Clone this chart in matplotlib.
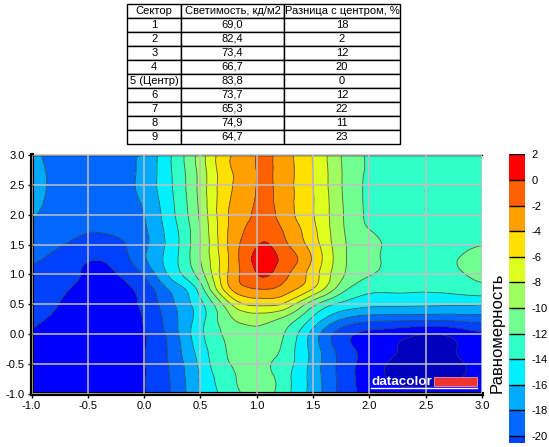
import numpy as np
import matplotlib
matplotlib.use('Agg')
import matplotlib.pyplot as plt
import matplotlib.tri as mtri
from matplotlib.patches import Rectangle

plt.rcParams['font.family'] = ['Liberation Sans', 'DejaVu Sans']
plt.rcParams['axes.unicode_minus'] = False

# таблица секторов
sectors = ['1', '2', '3', '4', '5 (Центр)', '6', '7', '8', '9']
luminance = [69.0, 82.4, 73.4, 66.7, 83.8, 73.7, 65.3, 74.9, 64.7]
diff_pct = [18, 2, 12, 20, 0, 12, 22, 11, 23]
headers = ['Сектор', 'Светимость, кд/м2', 'Разница с центром, %']

# поле равномерности (строки снизу вверх)
xs = [-1.0, -0.75, -0.5, -0.25, 0.0, 0.25, 0.5, 0.75, 0.875, 1.0, 1.125, 1.25,
      1.5, 1.75, 2.0, 2.25, 2.5, 2.75, 3.0]
ys = [-1.0, -0.75, -0.5, -0.25, 0.0, 0.25, 0.5, 0.75, 1.0, 1.25, 1.5, 1.75,
      2.0, 2.25, 2.5, 2.75, 3.0]
z_rows = [
    [-22.8, -23.4, -23.6, -23.3, -22.1, -19.8, -16.0, -13.0, -11.9, -11.3, -11.7, -13.2, -16.8, -20.5, -22.8, -23.4, -23.7, -23.6, -23.3],
    [-22.7, -23.3, -23.6, -23.3, -22.1, -19.7, -15.8, -12.6, -11.6, -11.2, -11.6, -13.2, -16.8, -20.6, -23.0, -24.3, -24.4, -24.1, -23.4],
    [-22.6, -23.2, -23.5, -23.2, -22.1, -19.5, -15.5, -12.1, -11.5, -11.1, -12.0, -13.1, -16.8, -20.6, -23.0, -24.5, -24.8, -24.4, -23.4],
    [-22.4, -23.0, -23.4, -23.1, -22.1, -19.3, -15.0, -11.8, -11.0, -10.8, -11.2, -12.6, -16.8, -20.8, -22.8, -24.0, -24.5, -24.1, -23.0],
    [-22.1, -22.8, -23.2, -22.9, -22.1, -19.0, -14.5, -11.5, -10.8, -10.5, -11.0, -12.1, -16.8, -21.0, -22.6, -23.3, -24.0, -23.5, -22.4],
    [-21.7, -22.4, -22.9, -22.7, -21.9, -18.7, -14.8, -10.5, -9.5, -9.2, -9.6, -10.6, -14.5, -18.0, -19.3, -19.5, -19.6, -19.5, -19.2],
    [-21.2, -22.05, -22.7, -22.5, -21.6, -18.3, -14.6, -8.6, -6.2, -5.6, -5.6, -6.5, -11.4, -14.5, -15.5, -15.6, -15.7, -15.8, -15.9],
    [-21.0, -21.7, -22.4, -22.4, -21.2, -17.5, -13.0, -4.6, -2.6, -2.1, -2.1, -3.0, -6.2, -11.2, -13.5, -13.6, -13.7, -13.4, -12.8],
    [-20.4, -21.2, -22.2, -22.05, -19.8, -15.3, -10.9, -3.8, -1.6, -0.05, -0.05, -1.5, -5.0, -9.6, -11.9, -12.4, -12.6, -12.3, -11.5],
    [-19.8, -20.6, -21.85, -21.3, -18.3, -14.8, -10.0, -4.0, -1.3, 0.5, 0.5, -0.6, -4.3, -9.3, -11.7, -12.3, -12.5, -12.1, -11.3],
    [-19.4, -19.9, -20.5, -20.4, -18.5, -15.0, -10.0, -3.8, -1.6, -0.15, -0.1, -1.6, -5.0, -9.4, -11.6, -12.4, -12.6, -12.4, -12.05],
    [-18.4, -19.4, -19.9, -19.7, -18.3, -14.8, -9.9, -3.9, -2.2, -0.9, -1.1, -2.3, -5.5, -9.6, -12.0, -12.5, -12.6, -12.5, -12.3],
    [-17.8, -18.8, -19.3, -19.1, -18.0, -14.4, -9.6, -4.0, -2.7, -1.6, -1.6, -3.0, -5.9, -9.7, -12.3, -12.6, -12.7, -12.6, -12.6],
    [-17.4, -18.6, -19.1, -18.9, -17.6, -14.2, -9.4, -4.2, -3.0, -1.85, -1.8, -3.1, -5.9, -9.8, -12.3, -12.6, -12.8, -12.8, -12.7],
    [-17.3, -18.5, -19.0, -18.8, -17.3, -14.0, -9.3, -4.4, -3.2, -1.95, -1.85, -3.1, -6.0, -9.9, -12.3, -12.7, -12.9, -12.9, -12.8],
    [-17.4, -18.5, -18.9, -18.7, -17.4, -13.9, -9.2, -4.3, -3.2, -1.95, -1.85, -3.1, -6.0, -9.9, -12.2, -12.6, -12.8, -12.9, -12.9],
    [-17.6, -18.6, -18.9, -18.6, -17.6, -13.9, -9.1, -4.3, -3.2, -1.98, -1.85, -3.1, -6.0, -10.0, -12.2, -12.6, -12.8, -12.9, -12.9],
]

levels = [-40, -24, -22, -20, -18, -16, -14, -12, -10, -8, -6, -4, -2, 0, 2]
band_colors = ['#0000be', '#0000ff', '#0040ff', '#0068ff', '#00aaff', '#00f0ff',
               '#30ffc8', '#70ff90', '#a0ff60', '#dcff20', '#ffe000', '#ffa000',
               '#ff6000', '#ff0000']
cbar_ticks = list(range(-20, 3, 2))

fig = plt.figure(figsize=(5.49, 4.47), dpi=100)

# --- контурная карта
ax = fig.add_axes([0.0574, 0.118, 0.8206, 0.536])
X, Y = np.meshgrid(xs, ys)
Z = np.array(z_rows)
tri = mtri.Triangulation(X.ravel(), Y.ravel())
refiner = mtri.UniformTriRefiner(tri)
tri_f, z_f = refiner.refine_field(Z.ravel(), subdiv=3)
ax.tricontourf(tri_f, z_f, levels=levels, colors=band_colors)
ax.tricontour(tri_f, z_f, levels=levels[1:-1], colors='#3a3a3a',
              linewidths=0.6, linestyles='solid', alpha=0.8)

ax.set_xlim(-1, 3)
ax.set_ylim(-1, 3)
ax.set_xticks(np.arange(-1, 3.01, 0.5))
ax.set_yticks(np.arange(-1, 3.01, 0.5))
ax.xaxis.set_major_formatter(matplotlib.ticker.FormatStrFormatter('%.1f'))
ax.yaxis.set_major_formatter(matplotlib.ticker.FormatStrFormatter('%.1f'))
ax.tick_params(labelsize=8, length=3, width=1, pad=2, colors='black')
ax.set_axisbelow(False)
ax.grid(True, color='#c0c0c0', linewidth=1.1)
ax.spines['left'].set_linewidth(3)
ax.spines['bottom'].set_linewidth(3)
ax.spines['top'].set_linewidth(1)
ax.spines['right'].set_visible(False)

# логотип
ax.text(2.015, -0.84, 'datacolor', color='white', fontsize=9.7, fontweight='bold',
        ha='left', va='baseline', zorder=5)
ax.add_patch(Rectangle((2.574, -0.855), 0.382, 0.135, facecolor='#ee3333',
                       edgecolor='#ff9090', linewidth=0.6, zorder=5))
ax.plot([2.015, 2.956], [-0.895, -0.895], color='white', linewidth=1, zorder=5)

# --- шкала
cax = fig.add_axes([0.927, 0.0089, 0.0291, 0.6459])
for lo, hi, c in zip(levels[:-1], levels[1:], band_colors):
    cax.axhspan(lo, hi, color=c, linewidth=0)
cax.hlines(cbar_ticks, 0, 1, colors='black', linewidth=1)
cax.set_xlim(0, 1)
cax.set_ylim(-20.55, 2)
cax.set_xticks([])
cax.set_yticks(cbar_ticks)
cax.yaxis.tick_right()
cax.tick_params(labelsize=8, length=0, pad=5)
for s in cax.spines.values():
    s.set_visible(False)
fig.text(0.905, 0.255, 'Равномерность', rotation=90, fontsize=12, ha='center', va='center')

# --- таблица
tax = fig.add_axes([0.2322, 0.6779, 0.4964, 0.3132])
tax.axis('off')
cell_text = [[s, f'{v:.1f}'.replace('.', ','), str(d)] for s, v, d in zip(sectors, luminance, diff_pct)]
tbl = tax.table(cellText=cell_text, colLabels=headers, cellLoc='center',
                colWidths=[53.5, 103, 116], bbox=[0, 0, 1, 1])
tbl.auto_set_font_size(False)
tbl.set_fontsize(8)
for cell in tbl.get_celld().values():
    cell.set_linewidth(1)
    cell.set_edgecolor('black')

fig.savefig('out.png', dpi=100)
